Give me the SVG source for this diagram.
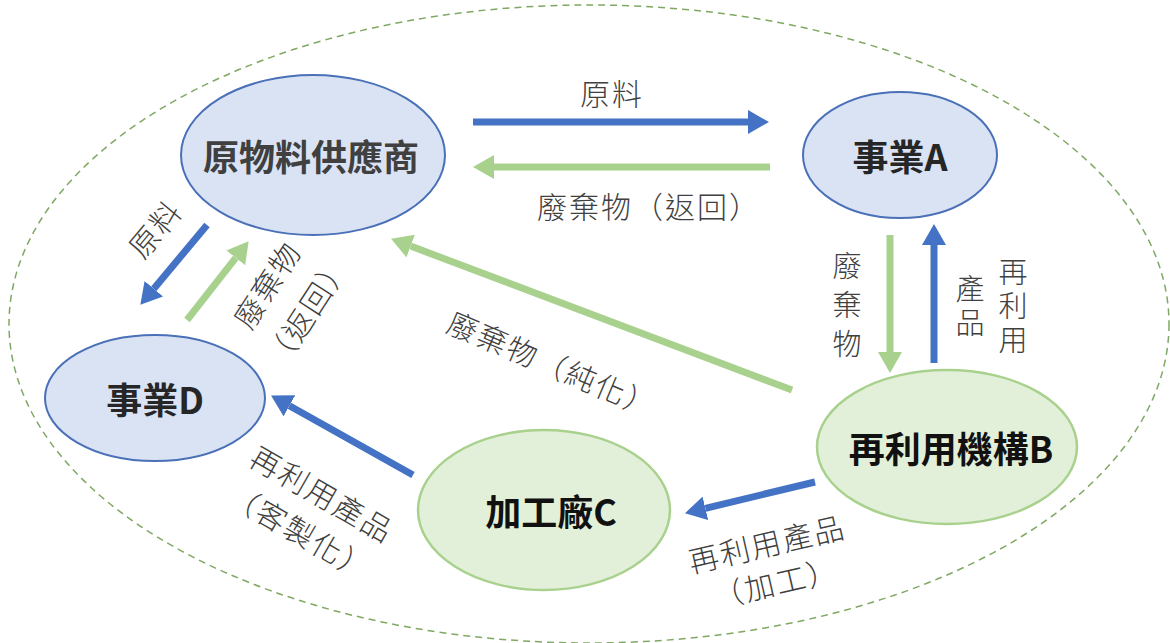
<svg xmlns="http://www.w3.org/2000/svg" width="1170" height="643" viewBox="0 0 1170 643">
<style>
.bn{fill:#dae3f3;stroke:#4a70b8;stroke-width:2}
.gn{fill:#e2f0d9;stroke:#a9d18e;stroke-width:2.5}
.nt{font-family:"Noto Sans CJK TC","Noto Sans CJK SC",sans-serif;font-weight:700;font-size:36px;text-anchor:middle;dominant-baseline:central}
.lb{font-family:"Noto Sans CJK TC","Noto Sans CJK SC",sans-serif;font-weight:300;font-size:30px;fill:#404040;text-anchor:middle;dominant-baseline:central;letter-spacing:2px}
.vt{font-family:"Noto Sans CJK TC","Noto Sans CJK SC",sans-serif;font-weight:300;font-size:29px;fill:#404040;text-anchor:middle;writing-mode:vertical-rl}
.ba{stroke:#4472c4;stroke-width:7;fill:none;marker-end:url(#hb)}
.ga{stroke:#a9d18e;stroke-width:7;fill:none;marker-end:url(#hg)}
</style>
<defs>
<marker id="hb" markerUnits="userSpaceOnUse" markerWidth="22" markerHeight="24" refX="0" refY="12" orient="auto" viewBox="0 0 22 24"><path d="M0,0 L21,12 L0,24 z" fill="#4472c4"/></marker>
<marker id="hg" markerUnits="userSpaceOnUse" markerWidth="22" markerHeight="24" refX="0" refY="12" orient="auto" viewBox="0 0 22 24"><path d="M0,0 L21,12 L0,24 z" fill="#a9d18e"/></marker>
</defs>
<rect width="1170" height="643" fill="#ffffff"/>
<ellipse cx="589" cy="324" rx="580" ry="319" fill="none" stroke="#7fa862" stroke-width="1.5" stroke-dasharray="7 5"/>

<g id="connectors">
<line class="ba" x1="473" y1="122" x2="748" y2="122"/>
<line class="ga" x1="770" y1="167" x2="494" y2="167"/>
<line class="ga" x1="890" y1="235" x2="890" y2="352"/>
<line class="ba" x1="934" y1="363" x2="934" y2="245"/>
<line class="ba" x1="207" y1="225" x2="153.8" y2="288.7"/>
<line class="ga" x1="187" y1="320" x2="235.7" y2="257.8"/>
<line class="ga" x1="792" y1="390" x2="410.7" y2="246.1"/>
<line class="ba" x1="413" y1="475" x2="289.4" y2="405.8"/>
<line class="ba" x1="815" y1="482" x2="705.4" y2="508.3"/>
</g>

<g id="labels">
<text class="lb" x="612" y="92">原料</text>
<text class="lb" x="649" y="205">廢棄物（返回）</text>
<text class="lb" transform="translate(154,228) rotate(-50)">原料</text>
<g transform="translate(286,297) rotate(-57)">
<text class="lb" x="0" y="-24">廢棄物</text>
<text class="lb" x="0" y="24">（返回）</text>
</g>
<text class="lb" transform="translate(553,363) rotate(23)">廢棄物（純化）</text>
<g transform="translate(312,512) rotate(30)">
<text class="lb" x="0" y="-22">再利用產品</text>
<text class="lb" x="0" y="22">（客製化）</text>
</g>
<g transform="translate(771,562) rotate(-13)">
<text class="lb" x="0" y="-20">再利用產品</text>
<text class="lb" x="0" y="20">（加工）</text>
</g>
<text class="vt" x="847" y="310" style="letter-spacing:10px">廢棄物</text>
<text class="vt" x="1013" y="308" style="letter-spacing:5px">再利用</text>
<text class="vt" x="970" y="308" style="letter-spacing:5px">產品</text>
</g>

<g id="node-supplier">
<ellipse class="bn" cx="313" cy="155" rx="132" ry="80"/>
<text class="nt" x="311" y="155" fill="#404040">原物料供應商</text>
</g>
<g id="node-A">
<ellipse class="bn" cx="900" cy="155" rx="97" ry="63"/>
<text class="nt" x="900" y="155" fill="#262626">事業A</text>
</g>
<g id="node-D">
<ellipse class="bn" cx="155" cy="398" rx="110" ry="63"/>
<text class="nt" x="155" y="398" fill="#262626">事業D</text>
</g>
<g id="node-B">
<ellipse class="gn" cx="947" cy="447" rx="130" ry="77"/>
<text class="nt" x="951" y="447" fill="#111111">再利用機構B</text>
</g>
<g id="node-C">
<ellipse class="gn" cx="544" cy="510" rx="126" ry="80"/>
<text class="nt" x="551" y="510" fill="#111111">加工廠C</text>
</g>
</svg>
